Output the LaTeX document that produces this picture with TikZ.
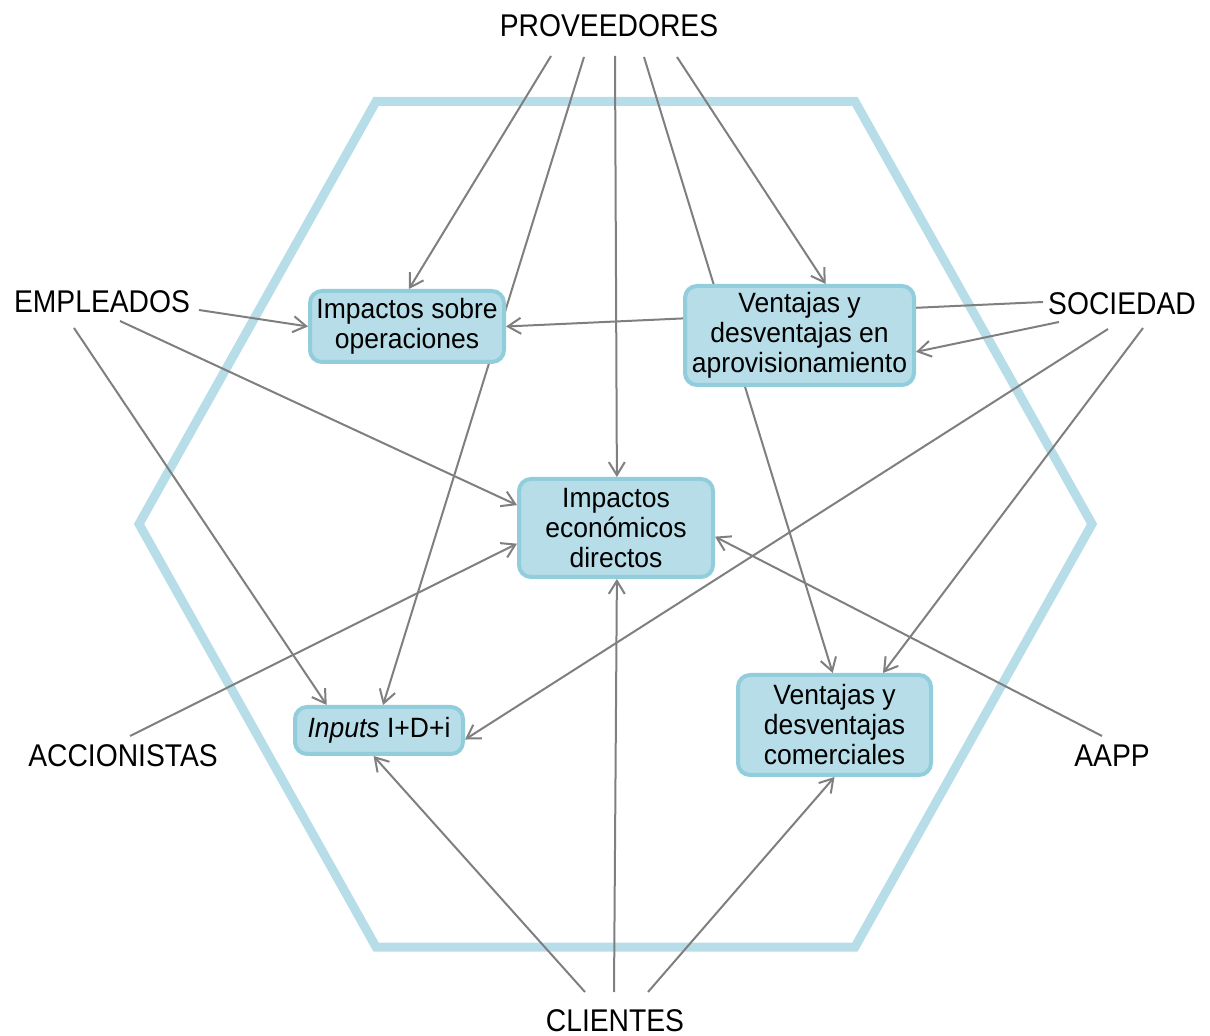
\documentclass[tikz,border=0pt]{standalone}
\usepackage{fontspec}
\setmainfont{Liberation Sans}
\newfontfamily\boxfont[FakeStretch=0.95]{Liberation Sans}
\newfontfamily\actorfont[FakeStretch=0.9]{Liberation Sans}
\usetikzlibrary{arrows.meta}
\definecolor{hexblue}{HTML}{B7DEE8}
\definecolor{boxfill}{HTML}{B7DDE8}
\definecolor{boxline}{HTML}{92CDDC}
\definecolor{linkgray}{HTML}{7F7F7F}
\pgfdeclarelayer{back}
\pgfsetlayers{back,main}
\begin{document}
\begin{tikzpicture}[x=0.5pt,y=-0.5pt,
  box/.style={draw=boxline, fill=boxfill, line width=2pt, rounded corners=6pt,
    align=center, inner sep=0pt, font=\boxfont\fontsize{13.95}{15}\selectfont},
  actor/.style={anchor=base, inner sep=0pt, font=\actorfont\fontsize{15.7}{18}\selectfont},
  link/.style={draw=linkgray, line width=1pt, -{Straight Barb[length=6.5pt,width=8pt]}},
]
% canvas
\path[use as bounding box] (0,0) rectangle (1210,1036);

% impact boxes
\node[box, minimum width=97pt, minimum height=35.5pt] (ops) at (407,326.5)
  {Impactos sobre\\operaciones};
\node[box, minimum width=114.5pt, minimum height=49.5pt] (aprov) at (799.5,335.5)
  {Ventajas y\\desventajas en\\aprovisionamiento};
\node[box, minimum width=97pt, minimum height=49pt] (eco) at (616,528)
  {Impactos\\económicos\\directos};
\node[box, minimum width=84pt, minimum height=23.5pt] (inputs) at (379,730.5)
  {\textit{Inputs} I+D+i};
\node[box, minimum width=96.5pt, minimum height=50pt] (comer) at (834.5,725)
  {Ventajas y\\desventajas\\comerciales};

% stakeholders
\node[actor] (prov) at (609,37) {PROVEEDORES};
\node[actor] (empl) at (102,313) {EMPLEADOS};
\node[actor] (soc)  at (1122,315) {SOCIEDAD};
\node[actor] (acc)  at (123,767) {ACCIONISTAS};
\node[actor] (aapp) at (1112,767) {AAPP};
\node[actor] (cli)  at (615,1031) {CLIENTES};

% connector origins next to each stakeholder
\coordinate (p1) at (551,56);
\coordinate (p2) at (584,57);
\coordinate (p3) at (615,56);
\coordinate (p4) at (644,57);
\coordinate (p5) at (677,57);
\coordinate (e1) at (199,310);
\coordinate (e2) at (120,321);
\coordinate (e3) at (74,328);
\coordinate (s1) at (1043,302);
\coordinate (s2) at (1059,322);
\coordinate (s3) at (1108,329);
\coordinate (s4) at (1143,328);
\coordinate (a1) at (130,736);
\coordinate (g1) at (1102,736);
\coordinate (c1) at (585,992);
\coordinate (c2) at (614,992);
\coordinate (c3) at (648,992);

\begin{pgfonlayer}{back}
  % company boundary
  \draw[hexblue, line width=4.5pt, line join=miter]
    (376,101.5) -- (855,101.5) -- (1092,524) -- (855,947) -- (376,947) -- (139,524) -- cycle;
  % proveedores
  \draw[link] (p1) -- (ops.87);
  \draw[link] (p2) -- (inputs.81);
  \draw[link] (p3) -- (eco.89);
  \draw[link] (p4) -- (comer.92);
  \draw[link] (p5) -- (aprov.63);
  % empleados
  \draw[link] (e1) -- (ops.west);
  \draw[link] (e2) -- (eco.167);
  \draw[link] (e3) -- (inputs.154);
  % sociedad
  \draw[link] (s1) -- (ops.east);
  \draw[link] (s2) -- (aprov.-8);
  \draw[link] (s3) -- (inputs.-6);
  \draw[link] (s4) -- (comer.47);
  % accionistas and AAPP
  \draw[link] (a1) -- (eco.189);
  \draw[link] (g1) -- (eco.-5);
  % clientes
  \draw[link] (c1) -- (inputs.-102);
  \draw[link] (c2) -- (eco.-89);
  \draw[link] (c3) -- (comer.south);
\end{pgfonlayer}
\end{tikzpicture}
\end{document}
